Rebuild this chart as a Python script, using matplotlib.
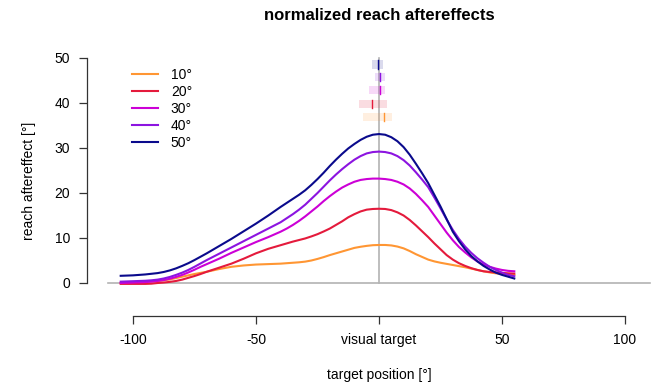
import numpy as np
import matplotlib.pyplot as plt

plt.rcParams["font.family"] = ["Liberation Sans", "DejaVu Sans"]

target_x = [-105, -102.5, -100, -97.5, -95, -92.5, -90, -87.5, -85, -82.5,
            -80, -77.5, -75, -72.5, -70, -67.5, -65, -62.5, -60, -57.5,
            -55, -52.5, -50, -47.5, -45, -42.5, -40, -37.5, -35, -32.5,
            -30, -27.5, -25, -22.5, -20, -17.5, -15, -12.5, -10, -7.5,
            -5, -2.5, 0, 2.5, 5, 7.5, 10, 12.5, 15, 17.5,
            20, 22.5, 25, 27.5, 30, 32.5, 35, 37.5, 40, 42.5,
            45, 47.5, 50, 52.5, 55]

ae_10 = [0.0, 0.05, 0.1, 0.15, 0.2, 0.3, 0.4, 0.6, 0.8, 1.1,
         1.4, 1.7, 2.0, 2.25, 2.5, 2.8, 3.1, 3.35, 3.6, 3.75,
         3.9, 4.0, 4.1, 4.15, 4.2, 4.25, 4.3, 4.4, 4.5, 4.6,
         4.75, 5.0, 5.35, 5.75, 6.2, 6.6, 7.0, 7.4, 7.8, 8.05,
         8.25, 8.4, 8.45, 8.45, 8.35, 8.1, 7.7, 7.1, 6.4, 5.8,
         5.2, 4.8, 4.5, 4.25, 4.0, 3.75, 3.5, 3.2, 2.9, 2.6,
         2.35, 2.15, 2.0, 1.9, 1.8]
ae_20 = [-0.2, -0.2, -0.2, -0.2, -0.2, -0.15, 0.0, 0.1, 0.25, 0.45,
         0.75, 1.15, 1.55, 2.0, 2.5, 2.95, 3.4, 3.85, 4.3, 4.85,
         5.4, 6.0, 6.6, 7.1, 7.6, 8.0, 8.4, 8.8, 9.2, 9.55,
         9.9, 10.35, 10.85, 11.45, 12.1, 12.9, 13.7, 14.6, 15.3, 15.9,
         16.3, 16.45, 16.5, 16.45, 16.2, 15.7, 15.0, 14.0, 12.8, 11.5,
         10.2, 8.8, 7.5, 6.2, 5.2, 4.4, 3.8, 3.3, 2.9, 2.6,
         2.45, 2.35, 2.25, 2.15, 2.1]
ae_30 = [0.0, 0.05, 0.1, 0.15, 0.2, 0.3, 0.45, 0.65, 0.95, 1.35,
         1.8, 2.35, 2.95, 3.6, 4.2, 4.8, 5.4, 6.05, 6.7, 7.3,
         7.9, 8.5, 9.1, 9.65, 10.2, 10.8, 11.4, 12.1, 12.9, 13.8,
         14.8, 15.9, 17.0, 18.2, 19.3, 20.3, 21.2, 21.9, 22.5, 22.9,
         23.1, 23.2, 23.2, 23.1, 22.9, 22.5, 21.9, 21.0, 19.8, 18.4,
         16.9, 15.0, 13.1, 11.2, 9.5, 8.0, 6.8, 5.7, 4.8, 4.1,
         3.6, 3.2, 2.9, 2.7, 2.6]
ae_40 = [0.3, 0.35, 0.4, 0.45, 0.5, 0.6, 0.75, 1.0, 1.35, 1.8,
         2.3, 2.9, 3.6, 4.35, 5.1, 5.8, 6.5, 7.2, 7.9, 8.6,
         9.3, 10.0, 10.7, 11.4, 12.1, 12.8, 13.5, 14.4, 15.3, 16.3,
         17.4, 18.7, 20.0, 21.4, 22.8, 24.1, 25.3, 26.4, 27.4, 28.2,
         28.8, 29.1, 29.2, 29.1, 28.8, 28.2, 27.3, 26.1, 24.6, 23.0,
         21.3, 19.0, 16.6, 14.1, 11.8, 9.8, 8.1, 6.7, 5.5, 4.5,
         3.6, 2.9, 2.3, 1.8, 1.5]
ae_50 = [1.6, 1.65, 1.7, 1.8, 1.9, 2.05, 2.2, 2.45, 2.8, 3.25,
         3.8, 4.4, 5.1, 5.85, 6.6, 7.4, 8.2, 9.0, 9.8, 10.65,
         11.5, 12.35, 13.2, 14.1, 15.0, 15.95, 16.9, 17.8, 18.7, 19.6,
         20.6, 21.8, 23.1, 24.5, 26.0, 27.4, 28.7, 29.9, 30.9, 31.8,
         32.5, 32.95, 33.1, 32.95, 32.4, 31.5, 30.2, 28.5, 26.5, 24.4,
         22.2, 19.6, 17.0, 14.2, 11.4, 9.3, 7.5, 6.0, 4.8, 3.8,
         3.0, 2.3, 1.8, 1.4, 1.0]

rotations = ["10°", "20°", "30°", "40°", "50°"]
colors = ["#ff9633", "#e41a3c", "#cc00d6", "#8c14e0", "#0a0a8c"]

# peak location: mean and interval, one row per rotation
peak_mean = [1.9, -2.7, 0.3, 0.4, -0.3]
peak_lo = [-6.5, -8.1, -4.1, -1.6, -2.8]
peak_hi = [5.2, 3.1, 2.3, 2.3, 1.5]
peak_row = [36.9, 39.8, 42.9, 45.8, 48.6]

x_ticks = [-100, -50, 0, 50, 100]
x_ticklabels = ["-100", "-50", "visual target", "50", "100"]
y_ticks = [0, 10, 20, 30, 40, 50]


def main():
    fig = plt.figure(figsize=(6.58, 3.84), dpi=100)
    # axes box in pixels: left 80, right 655, top 40, bottom 345
    ax = fig.add_axes([80 / 658, 1 - 345 / 384, 575 / 658, 305 / 384])
    ax.set_xlim((80 - 379) / 2.46, (655 - 379) / 2.46)
    ax.set_ylim((283 - 345) / 4.5, (283 - 40) / 4.5)

    ax.plot([-110, 110], [0, 0], color="#b3b3b3", lw=1.2, zorder=1)
    ax.plot([0, 0], [0, 50], color="#b3b3b3", lw=1.2, zorder=1)

    curves = [ae_10, ae_20, ae_30, ae_40, ae_50]
    for vals, col, lab in zip(curves, colors, rotations):
        ax.plot(target_x, vals, color=col, lw=1.5, label=lab, zorder=3)

    for i, col in enumerate(colors):
        ax.fill_between([peak_lo[i], peak_hi[i]], peak_row[i] - 0.95,
                        peak_row[i] + 0.95, color=col, alpha=0.15, lw=0)
        ax.plot([peak_mean[i], peak_mean[i]],
                [peak_row[i] - 0.95, peak_row[i] + 0.95], color=col, lw=1.0)

    for s in ["top", "right"]:
        ax.spines[s].set_visible(False)
    ax.spines["left"].set_position(("data", -118.7))
    ax.spines["left"].set_bounds(0, 50)
    ax.spines["bottom"].set_position(("data", -7.3))
    ax.spines["bottom"].set_bounds(-100, 100)
    for s in ["left", "bottom"]:
        ax.spines[s].set_color("#333333")
        ax.spines[s].set_linewidth(0.9)

    ax.set_xticks(x_ticks)
    ax.set_xticklabels(x_ticklabels)
    ax.set_yticks(y_ticks)
    ax.tick_params(length=6, width=0.9, color="#333333", labelsize=10, pad=6)

    fig.text(379 / 658, 1 - 15 / 384, "normalized reach aftereffects",
             ha="center", va="center", fontsize=12, fontweight="bold")
    fig.text(379 / 658, 1 - 375 / 384, "target position [°]",
             ha="center", va="center", fontsize=10)
    fig.text(29 / 658, 1 - 181 / 384, "reach aftereffect [°]",
             ha="center", va="center", rotation=90, fontsize=10)

    ax.legend(loc="upper left", bbox_to_anchor=(132 / 658, 1 - 68 / 384),
              bbox_transform=fig.transFigure, frameon=False, fontsize=10,
              handlelength=1.9, handletextpad=0.9, labelspacing=0.22,
              borderaxespad=0, borderpad=0)

    fig.savefig("out.png", dpi=100)


if __name__ == "__main__":
    main()
